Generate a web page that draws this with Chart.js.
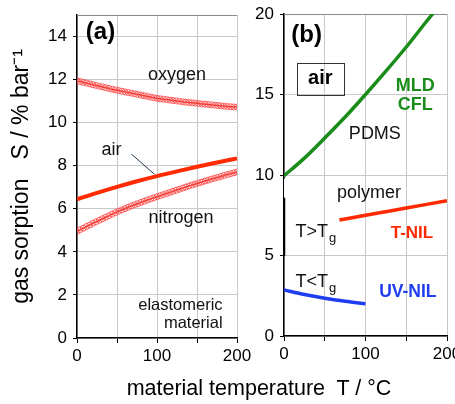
<!DOCTYPE html>
<html>
<head>
<meta charset="utf-8">
<script src="https://cdn.jsdelivr.net/npm/chart.js@4.4.1/dist/chart.umd.min.js"></script>
<style>
  body { margin: 0; background: #fff; }
  #wrap { position: relative; width: 455px; height: 404px; overflow: hidden; }
  canvas { position: absolute; top: 0; }
  #leftChart { left: 0; }
  #rightChart { left: 240px; }
  #xTitle {
    position: absolute; left: 59px; width: 400px; top: 375px;
    text-align: center; font: 21.5px 'Liberation Sans', Arial, sans-serif;
    line-height: 26px; color: #000;
  }
</style>
</head>
<body>
<div id="wrap">
  <canvas id="leftChart" width="262" height="404"></canvas>
  <canvas id="rightChart" width="215" height="404"></canvas>
  <div id="xTitle">material temperature&nbsp; T / °C</div>
</div>
<script>
// (a) elastomeric material: sorption vs temperature
const tempDense = [0, 4, 8, 12, 16, 20, 24, 28, 32, 36, 40, 44, 48, 52, 56, 60, 64, 68, 72, 76, 80,
  84, 88, 92, 96, 100, 104, 108, 112, 116, 120, 124, 128, 132, 136, 140, 144, 148, 152, 156, 160,
  164, 168, 172, 176, 180, 184, 188, 192, 196, 200];
const oxygen = [11.95, 11.91, 11.87, 11.84, 11.80, 11.76, 11.73, 11.69, 11.66, 11.62, 11.59,
  11.55, 11.52, 11.49, 11.46, 11.43, 11.40, 11.37, 11.34, 11.31, 11.28, 11.25, 11.22, 11.19,
  11.16, 11.13, 11.11, 11.09, 11.07, 11.05, 11.03, 11.01, 10.99, 10.97, 10.95, 10.94, 10.92,
  10.91, 10.89, 10.87, 10.86, 10.84, 10.83, 10.81, 10.80, 10.78, 10.77, 10.75, 10.74, 10.73, 10.72];
const nitrogen = [4.95, 5.03, 5.10, 5.18, 5.25, 5.33, 5.40, 5.47, 5.54, 5.61, 5.68, 5.75, 5.82,
  5.89, 5.95, 6.01, 6.07, 6.13, 6.19, 6.24, 6.30, 6.35, 6.41, 6.46, 6.51, 6.56, 6.61, 6.66, 6.71,
  6.76, 6.81, 6.86, 6.91, 6.96, 7.01, 7.06, 7.11, 7.15, 7.20, 7.24, 7.29, 7.33, 7.38, 7.42, 7.46,
  7.50, 7.55, 7.59, 7.63, 7.67, 7.71];
const airTemp = [0, 25, 50, 75, 100, 125, 150, 175, 200];
const air = [6.44, 6.74, 7.02, 7.28, 7.52, 7.74, 7.95, 8.15, 8.34];
const airPointerT = [68, 97];
const airPointerS = [8.54, 7.6];
const yTicksA = [0, 2, 4, 6, 8, 10, 12, 14];

// (b) air sorption for imprint materials
const pdmsTemp = [0, 25, 50, 75, 100, 125, 150, 175, 200];
const pdms = [9.95, 11.05, 12.3, 13.6, 15.0, 16.45, 17.95, 19.55, 21.1];
const tnilTemp = [68, 100, 150, 200];
const tnil = [7.2, 7.5, 7.95, 8.4];
const uvnilTemp = [0, 25, 50, 75, 100];
const uvnil = [2.86, 2.58, 2.35, 2.16, 2.0];
const tgBarTemp = [0, 0];
const tgBar = [4.97, 8.56];
const axisGapTemp = [0, 0];
const axisGap = [8.62, 9.75];
const yTicksB = [0, 5, 10, 15, 20];
const xTickLabels = [0, 100, 200];

const FONT = "'Liberation Sans', Arial, sans-serif";
Chart.defaults.font.family = FONT;
Chart.defaults.color = '#000';

const RED = '#ff2a00';
const GREEN = '#1a8c1a';
const BLUE = '#1f3ef2';
const GRID = '#c8c8c8';

function pts(xs, ys) {
  return xs.map((x, i) => ({ x: x, y: ys[i] }));
}

// free text inside the plot, placed in data units
const panelText = {
  id: 'panelText',
  afterDatasetsDraw(chart, args, opts) {
    const { ctx } = chart;
    const xs = chart.scales.x, ys = chart.scales.y;
    ctx.save();
    ctx.textBaseline = 'middle';
    (opts.items || []).forEach(it => {
      const px = xs.getPixelForValue(it.x);
      const py = ys.getPixelForValue(it.y);
      ctx.font = it.font;
      ctx.fillStyle = it.color || '#111';
      ctx.textAlign = it.align || 'center';
      ctx.fillText(it.text, px, py);
      if (it.sub) {
        const w = ctx.measureText(it.text).width;
        const sx = it.align === 'left' ? px + w : px + w / 2;
        ctx.font = it.subFont;
        ctx.textAlign = 'left';
        ctx.fillText(it.sub, sx + 1, py + 7);
      }
      if (it.box) {
        ctx.strokeStyle = '#333';
        ctx.lineWidth = 1;
        ctx.strokeRect(Math.round(px - it.box[0] / 2) + 0.5, Math.round(py - it.box[1] / 2) + 0.5,
          it.box[0], it.box[1]);
      }
    });
    ctx.restore();
  }
};

// top frame line of the plot area
const frameTop = {
  id: 'frameTop',
  beforeDatasetsDraw(chart) {
    const { ctx, chartArea: a } = chart;
    ctx.save();
    ctx.strokeStyle = '#8a8a8a';
    ctx.lineWidth = 1;
    ctx.beginPath();
    ctx.moveTo(a.left, a.top + 0.5);
    ctx.lineTo(a.right, a.top + 0.5);
    ctx.stroke();
    ctx.restore();
  }
};

function xScale(height) {
  return {
    type: 'linear', min: 0, max: 200,
    ticks: {
      stepSize: 50, autoSkip: false, maxRotation: 0, padding: 3,
      font: { size: 17 },
      callback: v => xTickLabels.includes(v) ? String(v) : ''
    },
    grid: { color: GRID, tickColor: '#000', tickLength: 5 },
    border: { color: '#000', width: 1.5 },
    afterFit: s => { s.height = height; s.paddingLeft = 0; s.paddingRight = 0; }
  };
}

function yScale(max, step, keep, width, title) {
  return {
    min: 0, max: max,
    afterBuildTicks: s => { s.ticks = s.ticks.filter(t => keep.includes(t.value)); },
    ticks: { stepSize: step, padding: 6, font: { size: 17 } },
    grid: { color: GRID, tickColor: '#000', tickLength: 4 },
    border: { color: '#000', width: 1.5 },
    title: title,
    afterFit: s => { s.width = width; s.paddingTop = 0; s.paddingBottom = 0; }
  };
}

const markerLine = (label, ys) => ({
  label: label,
  data: pts(tempDense, ys),
  borderColor: '#e8362a',
  borderWidth: 1.5,
  pointRadius: 3,
  pointBorderWidth: 1,
  pointBorderColor: 'rgba(255,70,70,0.85)',
  pointBackgroundColor: 'rgba(255,255,255,0)',
  tension: 0.3
});

new Chart(document.getElementById('leftChart'), {
  type: 'line',
  data: {
    datasets: [
      { label: 'air', data: pts(airTemp, air), borderColor: RED, borderWidth: 4,
        pointRadius: 0, cubicInterpolationMode: 'monotone' },
      markerLine('oxygen', oxygen),
      markerLine('nitrogen', nitrogen),
      { label: 'pointer', data: pts(airPointerT, airPointerS), borderColor: '#1c3550',
        borderWidth: 1, pointRadius: 0 }
    ]
  },
  options: {
    responsive: false,
    animation: false,
    layout: { padding: { top: 15, right: 25, left: 0, bottom: 0 } },
    scales: {
      x: xScale(66),
      y: yScale(15, 2, yTicksA, 77, {
        display: true, text: 'gas sorption   S / % bar⁻¹',
        font: { size: 23 }, color: '#000', padding: { top: 8, bottom: 0 }
      })
    },
    plugins: {
      legend: { display: false },
      tooltip: { enabled: false },
      panelText: {
        items: [
          { text: '(a)', x: 11, y: 14.17, font: 'bold 24px ' + FONT, align: 'left', color: '#000' },
          { text: 'oxygen', x: 125, y: 12.2, font: '18px ' + FONT },
          { text: 'air', x: 43, y: 8.73, font: '18px ' + FONT },
          { text: 'nitrogen', x: 130, y: 5.55, font: '18px ' + FONT },
          { text: 'elastomeric', x: 182, y: 1.52, font: '16.5px ' + FONT, align: 'right' },
          { text: 'material', x: 182, y: 0.67, font: '16.5px ' + FONT, align: 'right' }
        ]
      }
    }
  },
  plugins: [panelText, frameTop]
});

new Chart(document.getElementById('rightChart'), {
  type: 'line',
  data: {
    datasets: [
      { label: 'PDMS', data: pts(pdmsTemp, pdms), borderColor: GREEN, borderWidth: 3.5,
        pointRadius: 0, cubicInterpolationMode: 'monotone' },
      { label: 'T-NIL', data: pts(tnilTemp, tnil), borderColor: RED, borderWidth: 3.5,
        pointRadius: 0, cubicInterpolationMode: 'monotone' },
      { label: 'UV-NIL', data: pts(uvnilTemp, uvnil), borderColor: BLUE, borderWidth: 3.5,
        pointRadius: 0, cubicInterpolationMode: 'monotone' },
      { label: 'Tg', data: pts(tgBarTemp, tgBar), borderColor: '#000', borderWidth: 2.5,
        pointRadius: 0 },
      // break in the axis line above the Tg bar
      { label: 'gap', data: pts(axisGapTemp, axisGap), borderColor: '#fff', borderWidth: 3,
        pointRadius: 0 }
    ]
  },
  options: {
    responsive: false,
    animation: false,
    layout: { padding: { top: 14, right: 8, left: 0, bottom: 0 } },
    scales: {
      x: xScale(68),
      y: yScale(20, 5, yTicksB, 44, { display: false })
    },
    plugins: {
      legend: { display: false },
      tooltip: { enabled: false },
      panelText: {
        items: [
          { text: '(b)', x: 9, y: 18.7, font: 'bold 24px ' + FONT, align: 'left', color: '#000' },
          { text: 'air', x: 44.6, y: 15.98, font: 'bold 20px ' + FONT, box: [47, 32], color: '#000' },
          { text: 'MLD', x: 161, y: 15.54, font: 'bold 18px ' + FONT, color: GREEN },
          { text: 'CFL', x: 161, y: 14.36, font: 'bold 18px ' + FONT, color: GREEN },
          { text: 'PDMS', x: 111.5, y: 12.56, font: '18px ' + FONT },
          { text: 'polymer', x: 104.4, y: 8.87, font: '18px ' + FONT },
          { text: 'T>T', sub: 'g', x: 14, y: 6.48, font: '18px ' + FONT, subFont: '13px ' + FONT, align: 'left' },
          { text: 'T-NIL', x: 157, y: 6.38, font: 'bold 17px ' + FONT, color: RED },
          { text: 'T<T', sub: 'g', x: 14, y: 3.38, font: '18px ' + FONT, subFont: '13px ' + FONT, align: 'left' },
          { text: 'UV-NIL', x: 152, y: 2.75, font: 'bold 17.5px ' + FONT, color: BLUE }
        ]
      }
    }
  },
  plugins: [panelText, frameTop]
});
</script>
</body>
</html>
